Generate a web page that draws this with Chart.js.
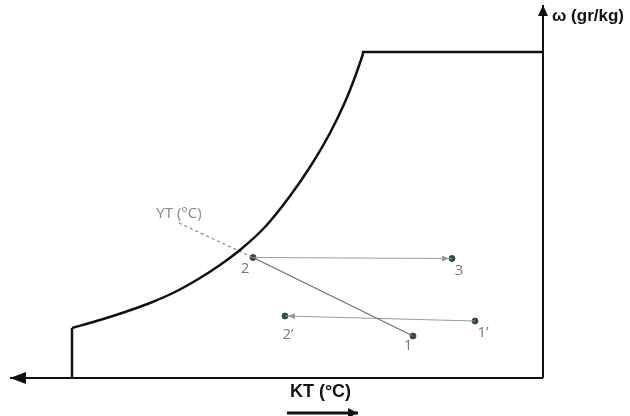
<!DOCTYPE html>
<html>
<head>
<meta charset="utf-8">
<script src="https://cdn.jsdelivr.net/npm/chart.js@4.4.1/dist/chart.umd.min.js"></script>
<style>
  html, body { margin: 0; padding: 0; background: #fff; }
  #wrap { width: 630px; height: 416px; }
</style>
</head>
<body>
<div id="wrap"><canvas id="chart" width="630" height="416"></canvas></div>
<script>
// saturation curve (dry bulb temp KT vs humidity ratio ω)
const satT = [0, 2.8, 5.3, 7.8, 10.3, 12.8, 14.8, 16.8, 19.3, 21.8, 23.8, 25.8, 27.3, 28.3, 29.1];
const satW = [5.0, 5.8, 6.6, 7.5, 8.6, 10.0, 11.3, 12.8, 15.1, 18.2, 21.1, 24.5, 27.6, 30.1, 32.4];

// chart frame
const topW = 32.6;       // upper flat limit
const rightT = 47.1;     // right (ω) axis position
const leftT = -6.2;      // end of the KT axis arrow
const axisTopW = 37.3;   // end of the ω axis arrow

// states
const stateNames = ['1', '1\u2019', '2', '2\u2019', '3'];
const stateT = [34.1, 40.3, 18.1, 21.3, 38.0];
const stateW = [4.2, 5.7, 12.05, 6.2, 11.95];

// wet bulb (YT) line start
const ytT = 10.7;
const ytW = 15.5;

// KT direction arrow under the axis
const ktArrowT = [21.5, 28.6];
const ktArrowW = -3.5;

const pts = (xs, ys) => xs.map((x, i) => ({ x, y: ys[i] }));
const st = name => ({ x: stateT[stateNames.indexOf(name)], y: stateW[stateNames.indexOf(name)] });

const line = (data, color, width, extra) => Object.assign({
  data, showLine: true, borderColor: color, borderWidth: width,
  pointRadius: 0, fill: false, clip: false
}, extra || {});

// label offsets in px (style only)
const labelOffsets = { '1': [-5, 10], '1\u2019': [8, 12], '2': [-8, 11], '2\u2019': [3, 19], '3': [7, 12] };

const arrowPlugin = {
  id: 'arrows',
  afterDatasetsDraw(chart) {
    const ctx = chart.ctx;
    chart.data.datasets.forEach((ds, i) => {
      if (!ds.arrow) return;
      const pts = chart.getDatasetMeta(i).data;
      const a = pts[pts.length - 2], b = pts[pts.length - 1];
      const ang = Math.atan2(b.y - a.y, b.x - a.x);
      const len = ds.arrowLen || 8, half = ds.arrowHalf || 4;
      const back = ds.arrowBack || 0;
      const tx = b.x - Math.cos(ang) * back, ty = b.y - Math.sin(ang) * back;
      ctx.save();
      ctx.fillStyle = ds.borderColor;
      ctx.beginPath();
      ctx.moveTo(tx, ty);
      ctx.lineTo(tx - len * Math.cos(ang) - half * Math.sin(ang), ty - len * Math.sin(ang) + half * Math.cos(ang));
      ctx.lineTo(tx - len * Math.cos(ang) + half * Math.sin(ang), ty - len * Math.sin(ang) - half * Math.cos(ang));
      ctx.closePath();
      ctx.fill();
      ctx.restore();
    });
  }
};

const textPlugin = {
  id: 'texts',
  afterDraw(chart) {
    const ctx = chart.ctx;
    const xs = chart.scales.x, ys = chart.scales.y;
    ctx.save();
    ctx.textAlign = 'center';
    ctx.textBaseline = 'middle';
    // state labels
    ctx.fillStyle = '#7c7c7c';
    ctx.font = '15px "Open Sans", "Liberation Sans", sans-serif';
    stateNames.forEach((n, i) => {
      const off = labelOffsets[n];
      ctx.fillText(n, xs.getPixelForValue(stateT[i]) + off[0], ys.getPixelForValue(stateW[i]) + off[1]);
    });
    // YT label
    ctx.font = '15px "Open Sans", "Liberation Sans", sans-serif';
    ctx.fillStyle = '#888';
    ctx.fillText('YT (\u00B0C)', xs.getPixelForValue(ytT), ys.getPixelForValue(ytW) - 9);
    // axis titles
    ctx.fillStyle = '#111';
    ctx.font = 'bold 17px "Liberation Sans", Arial, sans-serif';
    ctx.textAlign = 'left';
    ctx.fillText('\u03C9 (gr/kg)', xs.getPixelForValue(rightT) + 9, ys.getPixelForValue(axisTopW) + 11);
    ctx.textAlign = 'center';
    ctx.font = 'bold 18px "Liberation Sans", Arial, sans-serif';
    ctx.fillText('KT (\u00B0C)', xs.getPixelForValue((ktArrowT[0] + ktArrowT[1]) / 2) - 2, ys.getPixelForValue(0) + 14);
    ctx.restore();
  }
};

new Chart(document.getElementById('chart'), {
  type: 'scatter',
  data: {
    datasets: [
      // frame: bottom axis with arrow to the left
      line([{ x: rightT, y: 0 }, { x: leftT, y: 0 }], '#111', 2, { arrow: 'end', arrowLen: 16, arrowHalf: 6 }),
      // right ω axis with arrow up
      line([{ x: rightT, y: 0 }, { x: rightT, y: axisTopW }], '#111', 2, { arrow: 'end', arrowLen: 11, arrowHalf: 5 }),
      // left vertical limit
      line([{ x: satT[0], y: 0 }, { x: satT[0], y: satW[0] }], '#111', 2.5),
      // saturation curve
      line(pts(satT, satW), '#111', 2.5, { cubicInterpolationMode: 'monotone' }),
      // top flat limit
      line([{ x: satT[satT.length - 1], y: satW[satW.length - 1] }, { x: satT[satT.length - 1], y: topW }, { x: rightT, y: topW }], '#111', 2.5),
      // YT dashed line
      line([{ x: ytT, y: ytW }, st('2')], '#8a8a8a', 1.2, { borderDash: [3, 3] }),
      // 2 -> 1
      line([st('2'), st('1')], '#707070', 1.3),
      // 2 -> 3
      line([st('2'), st('3')], '#9a9a9a', 1.2, { arrow: 'end', arrowLen: 7, arrowHalf: 3, arrowBack: 3 }),
      // 1' -> 2'
      line([st('1\u2019'), st('2\u2019')], '#9a9a9a', 1.2, { arrow: 'end', arrowLen: 7, arrowHalf: 3, arrowBack: 3 }),
      // KT arrow
      line(pts(ktArrowT, [ktArrowW, ktArrowW]), '#111', 3, { arrow: 'end', arrowLen: 10, arrowHalf: 5 }),
      // state points
      {
        data: pts(stateT, stateW), pointRadius: 3, pointBackgroundColor: '#2f4f44',
        pointBorderColor: '#2f4f44', showLine: false, clip: false
      }
    ]
  },
  options: {
    responsive: false,
    animation: false,
    layout: { padding: 0, autoPadding: false },
    plugins: { legend: { display: false }, tooltip: { enabled: false } },
    scales: {
      x: { type: 'linear', display: false, min: -7.2, max: 55.8 },
      y: { type: 'linear', display: false, min: -3.8, max: 37.8 }
    }
  },
  plugins: [arrowPlugin, textPlugin]
});
</script>
</body>
</html>
